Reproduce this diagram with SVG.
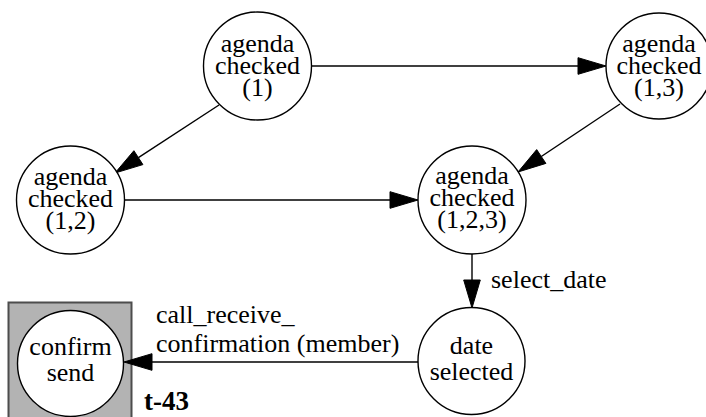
<svg xmlns="http://www.w3.org/2000/svg" width="706" height="417" viewBox="0 0 706 417">
<style>
text{font-family:'Liberation Serif','Tinos','Nimbus Roman','DejaVu Serif',serif;font-size:26px;fill:#000}
.node text{text-anchor:middle}
.node circle{fill:#fff;stroke:#000;stroke-width:1.4}
.edge line{stroke:#000;stroke-width:1.4;fill:none}
.edge polygon{fill:#000;stroke:#000;stroke-width:1}
.box{fill:#b3b3b3;stroke:#4d4d4d;stroke-width:2}
.title{font-weight:bold;font-size:27px}
</style>
<rect width="706" height="417" fill="#fff"/>
<g id="cluster-t43">
<rect class="box" x="8.5" y="302.5" width="123" height="130"/>
<text class="title" x="144" y="410" font-family="Liberation Serif, serif">t-43</text>
</g>
<g id="edges" class="edge">
<line x1="311" y1="66" x2="578" y2="66"/>
<polygon points="606,66 578,57.7 578,74.3"/>
<line x1="620" y1="104" x2="541.3" y2="156.5"/>
<polygon points="518,172 536.7,149.6 545.9,163.4"/>
<line x1="219" y1="105" x2="138.4" y2="157.7"/>
<polygon points="115,173 133.9,150.7 142.9,164.6"/>
<line x1="124" y1="200" x2="390" y2="200"/>
<polygon points="418,200 390,191.7 390,208.3"/>
<line x1="472" y1="254" x2="472" y2="280"/>
<polygon points="472,308 463.7,280 480.3,280"/>
<text x="491" y="288">select_date</text>
<line x1="418" y1="362" x2="152" y2="362"/>
<polygon points="124,362 152,353.7 152,370.3"/>
<text x="156" y="323">call_receive_</text>
<text x="156" y="352">confirmation (member)</text>
</g>
<g id="n1" class="node">
<circle cx="257.5" cy="66" r="54"/>
<text x="257.5" y="52">agenda</text>
<text x="257.5" y="74">checked</text>
<text x="257.5" y="96">(1)</text>
</g>
<g id="n13" class="node">
<circle cx="659" cy="66" r="53"/>
<text x="659" y="52">agenda</text>
<text x="659" y="74">checked</text>
<text x="659" y="96">(1,3)</text>
</g>
<g id="n12" class="node">
<circle cx="70.5" cy="200" r="54"/>
<text x="70.5" y="185">agenda</text>
<text x="70.5" y="207">checked</text>
<text x="70.5" y="229">(1,2)</text>
</g>
<g id="n123" class="node">
<circle cx="472" cy="200" r="54"/>
<text x="472" y="184">agenda</text>
<text x="472" y="206">checked</text>
<text x="472" y="228">(1,2,3)</text>
</g>
<g id="ndate" class="node">
<circle cx="471.5" cy="361" r="53.5"/>
<text x="471.5" y="354">date</text>
<text x="471.5" y="380">selected</text>
</g>
<g id="nconfirm" class="node">
<circle cx="70.5" cy="363.5" r="53"/>
<text x="70.5" y="355">confirm</text>
<text x="70.5" y="381">send</text>
</g>
</svg>
